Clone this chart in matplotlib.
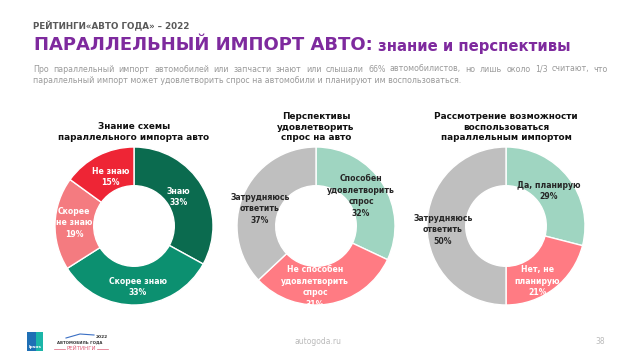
import matplotlib
matplotlib.use("Agg")
import matplotlib.pyplot as plt
from matplotlib.patches import Rectangle

plt.rcParams['font.family'] = ['DejaVu Sans']

W, H = 640, 360

# ---- data ----
c1_labels = ["Знаю", "Скорее знаю", "Скорее\nне знаю", "Не знаю"]
c1_values = [33, 33, 19, 15]
c2_labels = ["Способен\nудовлетворить\nспрос", "Не способен\nудовлетворить\nспрос", "Затрудняюсь\nответить"]
c2_values = [32, 31, 37]
c3_labels = ["Да, планирую", "Нет, не\nпланирую", "Затрудняюсь\nответить"]
c3_values = [29, 21, 50]

titles = ["Знание схемы\nпараллельного импорта авто",
          "Перспективы\nудовлетворить\nспрос на авто",
          "Рассмотрение возможности\nвоспользоваться\nпараллельным импортом"]

# ---- style ----
c1_colors = ["#0B6B4F", "#0C9070", "#F47B80", "#EE2535"]
c2_colors = ["#9FD5C1", "#FF7B83", "#BFBFBF"]
c3_colors = ["#9FD5C1", "#FF7B83", "#BFBFBF"]
c1_txt = ["white", "white", "white", "white"]
c2_txt = ["#262626", "white", "#262626"]
c3_txt = ["#262626", "white", "#262626"]
# label positions in units of outer radius (layout)
c1_pos = [(0.56, 0.37), (0.05, -0.77), (-0.76, 0.04), (-0.30, 0.62)]
c2_pos = [(0.57, 0.38), (-0.01, -0.77), (-0.71, 0.22)]
c3_pos = [(0.54, 0.44), (0.40, -0.70), (-0.80, -0.05)]

fig = plt.figure(figsize=(W/100, H/100), dpi=100)
fig.patch.set_facecolor("white")

def px(x, y):
    return x / W, 1 - y / H

R = 79
centers = [(134, 226), (316, 226), (506, 226)]
title_y = [132, 127, 127]
datasets = [(c1_labels, c1_values, c1_colors, c1_txt, c1_pos),
            (c2_labels, c2_values, c2_colors, c2_txt, c2_pos),
            (c3_labels, c3_values, c3_colors, c3_txt, c3_pos)]

for i, ((labs, vals, cols, tcols, pos), (cx, cy)) in enumerate(zip(datasets, centers)):
    ax = fig.add_axes([(cx - R) / W, (H - cy - R) / H, 2 * R / W, 2 * R / H])
    ax.pie(vals, colors=cols, startangle=90, counterclock=False,
           wedgeprops=dict(width=0.49, edgecolor="white", linewidth=1.0))
    ax.set_xlim(-1, 1)
    ax.set_ylim(-1, 1)
    ax.set_aspect("equal")
    ax.axis("off")
    for lab, v, tc, (lx, ly) in zip(labs, vals, tcols, pos):
        ax.text(lx, ly, f"{lab}\n{v}%", ha="center", va="center", color=tc,
                fontsize=5.6, fontweight="bold", linespacing=1.35)
    fig.text(*px(cx, title_y[i]), titles[i], ha="center", va="center",
             fontsize=6.4, fontweight="bold", color="#111111", linespacing=1.2)

# ---- header ----
fig.text(*px(33, 26), "РЕЙТИНГИ«АВТО ГОДА» – 2022", ha="left", va="center",
         fontsize=6.35, fontweight="bold", color="#595959")
t1 = fig.text(*px(34, 45), "ПАРАЛЛЕЛЬНЫЙ ИМПОРТ АВТО:", ha="left", va="center",
              fontsize=13.0, fontweight="bold", color="#7E2A9E")
fig.canvas.draw()
r = fig.canvas.get_renderer()
bb = t1.get_window_extent(r)
fig.text(bb.x1 / W + 5 / W, 1 - 46 / H, "знание и перспективы", ha="left", va="center",
         fontsize=10.7, fontweight="bold", color="#7E2A9E")

# justified subtitle first line
line1 = "Про параллельный импорт автомобилей или запчасти знают или слышали 66% автомобилистов, но лишь около 1/3 считают, что"
line2 = "параллельный импорт может удовлетворить спрос на автомобили и планируют им воспользоваться."
sub_kw = dict(fontsize=5.7, color="#9A9A9A", va="center", ha="left")
words = line1.split()
objs = [fig.text(0, 1 - 69 / H, w_, **sub_kw) for w_ in words]
fig.canvas.draw()
widths = [o.get_window_extent(r).width for o in objs]
x0, x1 = 33, 608
gap = (x1 - x0 - sum(widths)) / (len(words) - 1)
x = x0
for o, w_ in zip(objs, widths):
    o.set_x(x / W)
    x += w_ + gap
fig.text(x0 / W, 1 - 80.5 / H, line2, **sub_kw)

# ---- footer ----
fig.text(*px(318, 342), "autogoda.ru", ha="center", va="center", fontsize=5.5, color="#BBBBBB")
fig.text(*px(600, 342), "38", ha="center", va="center", fontsize=5.5, color="#BBBBBB")
fig.patches.append(Rectangle(px(27, 351), 16 / W, 19 / H, transform=fig.transFigure,
                             facecolor="#1F6FB5", edgecolor="none"))
fig.patches.append(Rectangle(px(36, 351), 7 / W, 19 / H, transform=fig.transFigure,
                             facecolor="#1BB5A8", edgecolor="none"))
fig.text(*px(35, 347), "Ipsos", ha="center", va="center", fontsize=3.2, color="white", fontweight="bold")
fig.text(*px(108, 337), "2022", ha="right", va="center", fontsize=3.2, color="#333333", fontweight="bold")
fig.text(*px(57, 342), "АВТОМОБИЛЬ ГОДА", ha="left", va="center", fontsize=2.8, color="#333333", fontweight="bold")
fig.text(*px(81, 349), "РЕЙТИНГИ", ha="center", va="center", fontsize=4.0, color="#E0607A")
fig.add_artist(plt.Line2D([54 / W, 65 / W], [1 - 349 / H, 1 - 349 / H], color="#E0607A", lw=0.5))
fig.add_artist(plt.Line2D([97 / W, 108 / W], [1 - 349 / H, 1 - 349 / H], color="#E0607A", lw=0.5))
fig.add_artist(plt.Line2D([66 / W, 80 / W, 94 / W], [1 - 338 / H, 1 - 334 / H, 1 - 335 / H], color="#3A6FC4", lw=0.8))

fig.savefig("out.png", dpi=100, facecolor="white")
